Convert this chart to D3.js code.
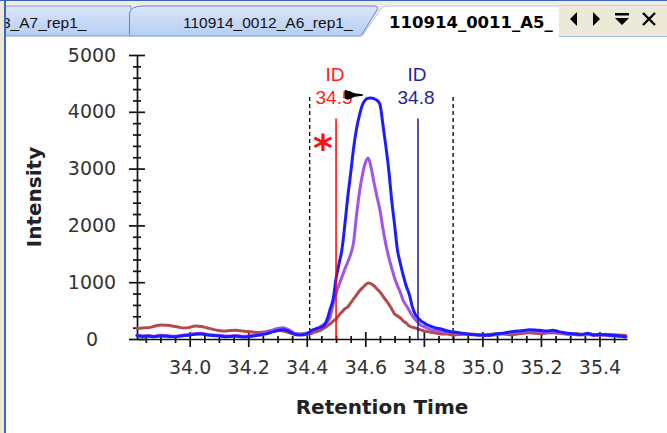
<!DOCTYPE html>
<html>
<head>
<meta charset="utf-8">
<script src="https://cdn.jsdelivr.net/npm/d3@7"></script>
<style>
  html, body { margin: 0; padding: 0; background: #fff; }
  svg { display: block; }
</style>
</head>
<body>
<svg id="chart" width="667" height="433"></svg>
<script>
// Retention time (min) shared by the three extracted-ion traces
const retentionTime = [
  33.82,33.84,33.86,33.88,33.90,33.92,33.94,33.96,33.98,34.00,
  34.02,34.04,34.06,34.08,34.10,34.12,34.14,34.16,34.18,34.20,
  34.22,34.24,34.26,34.28,34.30,34.32,34.34,34.36,34.38,34.40,
  34.41,34.42,34.43,34.44,34.45,34.46,34.47,34.48,34.49,34.50,
  34.51,34.52,34.53,34.54,34.55,34.56,34.57,34.58,34.59,34.60,
  34.61,34.62,34.63,34.64,34.65,34.66,34.67,34.68,34.69,34.70,
  34.71,34.72,34.73,34.74,34.75,34.76,34.77,34.78,34.79,34.80,
  34.82,34.84,34.86,34.88,34.90,
  34.92,34.94,34.96,34.98,35.00,35.02,35.04,35.06,35.08,35.10,
  35.12,35.14,35.16,35.18,35.20,35.22,35.24,35.26,35.28,35.30,
  35.32,35.34,35.36,35.38,35.40,35.42,35.44,35.46,35.48,35.49
];

// Intensity of each trace at the times above
const intensityBlue = [
  60,45,50,40,55,50,40,45,60,70, 85,90,70,60,55,40,45,50,35,40,
  55,70,90,120,150,165,130,80,70,90,
  120,160,175,195,210,245,350,530,700,1060,
  1320,1570,2010,2500,2920,3360,3700,3940,4120,4210,
  4240,4245,4230,4200,4130,3780,3400,2980,2450,2010,
  1560,1320,1110,930,790,580,440,370,320,285,
  230,195,175,140,125,
  110,95,80,75,70,65,85,95,110,130, 140,150,165,160,150,140,155,130,110,95,
  85,80,100,70,80,75,60,60,45,40
];
const intensityPurple = [
  70,55,60,50,65,60,50,55,70,80, 95,100,80,70,65,55,55,60,50,55,
  70,90,115,150,185,200,160,100,85,105,
  120,140,175,195,230,265,300,390,620,800,
  950,1090,1230,1355,1495,1705,2180,2585,2885,3100,
  3185,3010,2745,2500,2270,1950,1670,1440,1250,1075,
  935,815,670,590,500,415,345,290,240,220,
  170,150,135,120,115,
  100,90,80,70,60,60,75,85,100,115, 125,135,145,140,130,125,135,115,95,85,
  75,70,85,60,70,65,55,50,40,35
];
const intensityBrown = [
  185,195,200,225,245,240,230,210,195,205, 230,220,195,170,150,140,150,155,140,130,
  120,115,130,145,155,140,110,95,85,90,
  90,105,125,140,160,195,230,265,315,350,
  420,475,530,565,635,705,775,845,900,950,
  985,970,935,880,830,755,685,615,530,440,
  405,370,315,280,230,210,195,175,160,140,
  125,105,90,90,70,
  80,85,90,75,70,80,90,95,85,75, 90,100,110,100,95,105,110,100,90,80,
  95,85,90,80,75,85,80,70,65,60
];

// Axis ticks
const yTickValues = [0, 1000, 2000, 3000, 4000, 5000];
const xTickValues = [34.0, 34.2, 34.4, 34.6, 34.8, 35.0, 35.2, 35.4];
const xTickLabels = ["34.0", "34.2", "34.4", "34.6", "34.8", "35.0", "35.2", "35.4"];

// Integration window and identification times
const windowTimes = [34.41, 34.90];
const idTimes = [34.5, 34.78];
const idTitles = ["ID", "ID"];

// Document tabs
const tabLabels = ["3_A7_rep1_", "110914_0012_A6_rep1_", "110914_0011_A5_"];

const W = 667, H = 433;
const svg = d3.select("#chart");
const defs = svg.append("defs");

const grad = defs.append("linearGradient").attr("id", "tabFill")
  .attr("x1", 0).attr("y1", 0).attr("x2", 0).attr("y2", 1);
grad.append("stop").attr("offset", "0%").attr("stop-color", "#dbe6fa");
grad.append("stop").attr("offset", "100%").attr("stop-color", "#b6cdf2");

defs.append("filter").attr("id", "soft")
  .attr("x", "-5%").attr("y", "-5%").attr("width", "110%").attr("height", "110%")
  .append("feGaussianBlur").attr("stdDeviation", 0.55);

defs.append("clipPath").attr("id", "tab1clip")
  .append("rect").attr("x", 6).attr("y", 0).attr("width", 123).attr("height", 36);

// ---------- window frame and tab strip ----------
svg.append("rect").attr("x", 0).attr("y", 0).attr("width", W).attr("height", H).attr("fill", "#ffffff");
svg.append("rect").attr("x", 0).attr("y", 0).attr("width", W).attr("height", 36).attr("fill", "#efede2");
svg.append("rect").attr("x", 0).attr("y", 0).attr("width", 4).attr("height", H).attr("fill", "#ece9d8");
svg.append("line").attr("x1", 0).attr("x2", W).attr("y1", 0.5).attr("y2", 0.5)
  .attr("stroke", "#3d63b5").attr("stroke-width", 1);

// first (partly hidden) tab
svg.append("path").attr("d", "M5,36 L5,6 L131,6 L131,36 Z")
  .attr("fill", "url(#tabFill)").attr("stroke", "#7f9fd8").attr("stroke-width", 1);
svg.append("text").attr("clip-path", "url(#tab1clip)")
  .attr("x", 2).attr("y", 28).text(tabLabels[0])
  .style("font-family", "'Liberation Sans', Arial, sans-serif").style("font-size", "15.5px").attr("fill", "#111");

// second tab
svg.append("path").attr("d", "M129.5,36 L129.5,14 Q130,6 143,6 L374,6 Q379,6 377,10 L361,36 Z")
  .attr("fill", "url(#tabFill)").attr("stroke", "#5f84d4").attr("stroke-width", 1);
svg.append("text").attr("x", 183).attr("y", 28).text(tabLabels[1])
  .style("font-family", "'Liberation Sans', Arial, sans-serif").style("font-size", "15.5px").attr("fill", "#111");

// tab strip bottom edge
svg.append("line").attr("x1", 5).attr("x2", 362).attr("y1", 35.5).attr("y2", 35.5)
  .attr("stroke", "#9fb7e3").attr("stroke-width", 1);

// active tab
svg.append("path").attr("d", "M362,37 L381,9 Q383,6 388,6 L559,6 L559,37 Z")
  .attr("fill", "#ffffff");
svg.append("path").attr("d", "M362,36 L381,9 Q383,6 388,6 L559,6")
  .attr("fill", "none").attr("stroke", "#b9c9e6").attr("stroke-width", 1);
svg.append("text").attr("x", 389).attr("y", 28).text(tabLabels[2])
  .style("font-family", "'DejaVu Sans', Verdana, sans-serif").style("font-weight", "bold")
  .style("font-size", "16.5px").attr("fill", "#000");

// tab navigation controls
svg.append("rect").attr("x", 559).attr("y", 5).attr("width", W - 559).attr("height", 31).attr("fill", "#ece9d8");
svg.append("line").attr("x1", 559).attr("x2", W).attr("y1", 5.5).attr("y2", 5.5).attr("stroke", "#bfd0ea");
svg.append("line").attr("x1", 559).attr("x2", W).attr("y1", 36.5).attr("y2", 36.5).attr("stroke", "#a9c0e6");
const icons = svg.append("g").attr("fill", "#000");
icons.append("path").attr("d", "M577,12 L577,26 L570,19 Z");
icons.append("path").attr("d", "M593,12 L593,26 L600,19 Z");
icons.append("path").attr("d", "M615,13 L629,13 L629,15.5 L615,15.5 Z M615,18 L629,18 L622,25 Z");
icons.append("path").attr("d", "M643,13 L655,25 M655,13 L643,25")
  .attr("stroke", "#000").attr("stroke-width", 2.4).attr("fill", "none");

// left window border
svg.append("rect").attr("x", 4).attr("y", 0).attr("width", 2).attr("height", H).attr("fill", "#3f66b8");

// ---------- chart ----------
const x = d3.scaleLinear().domain([33.82, 35.494]).range([137, 627]);
const y = d3.scaleLinear().domain([0, 5000]).range([339, 55]);

const tickFont = "'DejaVu Sans', Verdana, sans-serif";

// y axis: minor ticks every 200, major every 1000, ticks cross the axis line
const yMinor = d3.range(200, 5000, 200).filter(v => v % 1000 !== 0);
const gyMinor = svg.append("g").attr("transform", `translate(${x.range()[0]},0)`)
  .call(d3.axisLeft(y).tickValues(yMinor).tickSize(4).tickFormat(""));
gyMinor.select(".domain").remove();
gyMinor.selectAll(".tick line").attr("x1", 4);

const gy = svg.append("g").attr("transform", `translate(${x.range()[0]},0)`)
  .call(d3.axisLeft(y).tickValues(yTickValues).tickSize(8).tickSizeOuter(0).tickPadding(14)
    .tickFormat(d3.format("d")));
gy.selectAll(".tick line").attr("x1", 8);
// tick labels are centred in a column left of the axis
gy.selectAll(".tick text").attr("text-anchor", "middle").attr("x", -45);

// x axis
const xMinor = d3.range(33.85, 35.46, 0.05).filter(v => Math.abs(v * 5 - Math.round(v * 5)) > 1e-6);
const gxMinor = svg.append("g").attr("transform", `translate(0,${y(0)})`)
  .call(d3.axisBottom(x).tickValues(xMinor).tickSize(4).tickFormat(""));
gxMinor.select(".domain").remove();
gxMinor.selectAll(".tick line").attr("y1", -3);

const gx = svg.append("g").attr("transform", `translate(0,${y(0)})`)
  .call(d3.axisBottom(x).tickValues(xTickValues).tickSize(8).tickSizeOuter(0).tickPadding(14)
    .tickFormat((d, i) => xTickLabels[i]));
gx.selectAll(".tick line").attr("y1", -7);

[gy, gyMinor, gx, gxMinor].forEach(g => {
  g.selectAll("line").attr("stroke", "#111").attr("stroke-width", 1.7);
  g.selectAll(".domain").attr("stroke", "#111").attr("stroke-width", 1.7);
  g.selectAll("text").attr("fill", "#333").style("font-family", tickFont).style("font-size", "19px");
});

// axis titles
svg.append("text").attr("x", (x.range()[0] + x.range()[1]) / 2).attr("y", 414)
  .attr("text-anchor", "middle").text("Retention Time")
  .style("font-family", tickFont).style("font-weight", "bold").style("font-size", "20px").attr("fill", "#222");
svg.append("text").attr("transform", `translate(41,${(y(0) + y(5000)) / 2}) rotate(-90)`)
  .attr("text-anchor", "middle").text("Intensity")
  .style("font-family", tickFont).style("font-weight", "bold").style("font-size", "20px").attr("fill", "#222");

// integration window boundaries
svg.append("g").selectAll("line").data(windowTimes).join("line")
  .attr("x1", d => x(d)).attr("x2", d => x(d))
  .attr("y1", y(4260)).attr("y2", y(0))
  .attr("stroke", "#000").attr("stroke-width", 1.3).attr("stroke-dasharray", "4,3");

// traces
const line = d3.line()
  .x((d, i) => x(retentionTime[i]))
  .y(d => y(d))
  .curve(d3.curveMonotoneX);
const traces = svg.append("g").attr("filter", "url(#soft)").attr("fill", "none")
  .attr("stroke-width", 3).attr("stroke-linejoin", "round").attr("stroke-linecap", "round");
traces.append("path").attr("d", line(intensityBrown)).attr("stroke", "#b24c4c");
traces.append("path").attr("d", line(intensityPurple)).attr("stroke", "#a054e6");
traces.append("path").attr("d", line(intensityBlue)).attr("stroke", "#1f1fff");

// identification lines and labels
const idColors = ["#ff0000", "#1c1c8a"];
const idText = ["#ff2020", "#25258f"];
idTimes.forEach((t, i) => {
  svg.append("line").attr("x1", x(t)).attr("x2", x(t))
    .attr("y1", y(3880)).attr("y2", y(0))
    .attr("stroke", idColors[i]).attr("stroke-width", 1.5);
  svg.append("text").attr("x", x(t) - 1).attr("y", 81).attr("text-anchor", "middle")
    .text(idTitles[i]).attr("fill", idText[i])
    .style("font-family", "'Liberation Sans', Arial, sans-serif").style("font-size", "19px");
  svg.append("text").attr("x", x(t) - 2).attr("y", 104).attr("text-anchor", "middle")
    .text(d3.format(".1f")(t)).attr("fill", idText[i])
    .style("font-family", "'Liberation Sans', Arial, sans-serif").style("font-size", "19px");
});

// flag for the first identification
svg.append("text").attr("x", x(idTimes[0]) - 13).attr("y", 161).attr("text-anchor", "middle")
  .text("*").attr("fill", "#ff1010")
  .style("font-family", tickFont).style("font-weight", "bold").style("font-size", "38px");

// apex pointer
const ax = x(34.53), ay = y(4300);
svg.append("path")
  .attr("d", `M${ax},${ay - 5} L${ax + 10},${ay - 1.5} L${ax + 18},${ay - 0.5} L${ax + 18},${ay + 1} L${ax + 10},${ay + 2} L${ax + 3},${ay + 5} L${ax},${ay + 4} Z`)
  .attr("fill", "#000");
</script>
</body>
</html>
